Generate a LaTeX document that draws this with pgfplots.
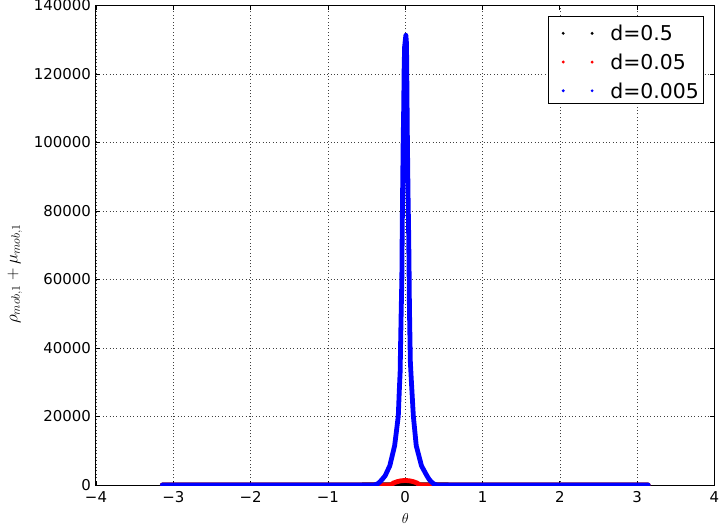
\documentclass[border=0pt]{standalone}
\usepackage{fontspec}
\setmainfont{DejaVu Sans}
\usepackage{pgfplots}
\pgfplotsset{compat=1.18}

\begin{document}
\begin{tikzpicture}
\begin{axis}[
  scale only axis,
  width=618.5bp, height=479.5bp,
  xmin=-4, xmax=4, ymin=0, ymax=140000,
  xtick={-4,-3,-2,-1,0,1,2,3,4},
  xticklabels={−4,−3,−2,−1,0,1,2,3,4},
  ytick={0,20000,40000,60000,80000,100000,120000,140000},
  yticklabels={0,20000,40000,60000,80000,100000,120000,140000},
  grid=major,
  grid style={black!75, line width=0.6bp, dash pattern=on 1bp off 2.4bp},
  axis line style={line width=1bp},
  tick align=inside,
  major tick length=4.5bp,
  tick style={black, line width=0.8bp},
  ticklabel style={font=\fontsize{15}{18}\selectfont},
  xticklabel style={inner sep=0pt, anchor=north, yshift=-6.7bp},
  yticklabel style={inner sep=0pt, anchor=east, xshift=-5bp},
  xlabel={$\theta$},
  ylabel={$\rho_{mob,1}+\mu_{mob,1}$},
  every axis x label/.style={font=\fontsize{14}{16}\selectfont,
    at={(axis description cs:0.5,-0.0699)}, anchor=center},
  every axis y label/.style={font=\fontsize{17}{20}\selectfont,
    at={(axis description cs:-0.131,0.44)}, anchor=center, rotate=90},
  legend cell align=left,
  legend style={
    at={(axis description cs:0.9838,0.978)}, anchor=north east,
    draw=black, line width=1.2bp,
    inner xsep=5bp, inner ysep=5bp,
    column sep=16.6bp, row sep=9.5bp,
    font=\fontsize{20.5}{24}\selectfont,
    nodes={inner sep=0pt, text height=19.2bp, text depth=0bp},
  },
]

% d=0.5
\addplot[black, line width=4.8bp, line cap=round, line join=round,
  legend image code/.code={\path[draw=none] (-3.7bp,0bp) (36bp,0bp);
    \path[draw=none, fill=black] (5.7bp,-2.1bp) circle (1.6bp) (34.6bp,-2.1bp) circle (1.6bp);}]
  coordinates {(-3.1416,0) (-1,0) (-0.1,60) (0,100) (0.1,60) (1,0) (3.1416,0)};
\addlegendentry{d=0.5}

% d=0.005 baseline pieces (drawn under the red dome)
\addplot[blue, line width=4.8bp, line cap=round, forget plot]
  coordinates {(-0.42,0) (-0.17,0)};
\addplot[blue, line width=4.8bp, line cap=round, forget plot]
  coordinates {(0.17,0) (0.42,0)};

% d=0.05
\addplot[red, line width=4.8bp, line cap=round, line join=round,
  legend image code/.code={\path[draw=none] (-3.7bp,0bp) (36bp,0bp);
    \path[draw=none, fill=red] (5.7bp,-2.1bp) circle (1.6bp) (34.6bp,-2.1bp) circle (1.6bp);}]
  coordinates {(-3.1416,0) (-0.20,0) (-0.18,150) (-0.15,600) (-0.10,1000) (-0.05,1250)
    (0,1310) (0.05,1250) (0.10,1000) (0.15,600) (0.18,150) (0.20,0) (3.1416,0)};
\addlegendentry{d=0.05}

% d=0.005
\addplot[blue, line width=4.8bp, line cap=round, line join=round,
  legend image code/.code={\path[draw=none] (-3.7bp,0bp) (36bp,0bp);
    \path[draw=none, fill=blue] (5.7bp,-2.1bp) circle (1.6bp) (34.6bp,-2.1bp) circle (1.6bp);}]
  coordinates {(-3.1416,0) (-0.40,0) (-0.36,300) (-0.33,870) (-0.30,1600) (-0.26,2700)
    (-0.20,5600) (-0.137,11500) (-0.09,20100) (-0.078,27000) (-0.066,33000)
    (-0.061,40000) (-0.053,50000) (-0.044,60000) (-0.040,72000) (-0.035,84000)
    (-0.027,100000) (-0.020,110000) (-0.014,122000) (-0.008,128000) (0.008,131300)
    (0.016,129000) (0.022,115000) (0.028,100000) (0.036,85000) (0.045,72000)
    (0.050,62000) (0.054,52000) (0.060,44000) (0.066,36000) (0.080,30000)
    (0.105,20100) (0.142,11500) (0.21,5600) (0.28,2700) (0.31,1600) (0.34,870)
    (0.37,300) (0.41,0) (3.1416,0)};
\addlegendentry{d=0.005}

\end{axis}
\pgfresetboundingbox
\path[use as bounding box] (-96bp,-41bp) rectangle (623bp,485bp);
\end{tikzpicture}
\end{document}
